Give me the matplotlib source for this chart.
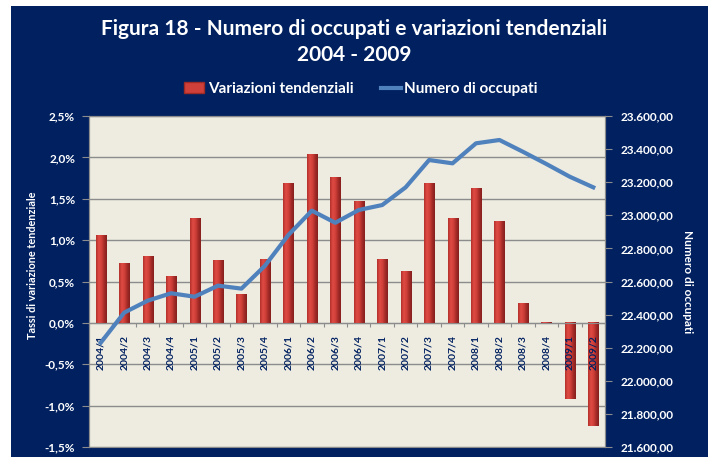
import matplotlib
matplotlib.use("Agg")
import matplotlib.pyplot as plt
from matplotlib.patches import Rectangle, Patch
from matplotlib.lines import Line2D
from matplotlib.colors import LinearSegmentedColormap
from matplotlib.ticker import FuncFormatter, MultipleLocator, FixedLocator
import numpy as np

plt.rcParams['font.family'] = ['Lato', 'DejaVu Sans']
plt.rcParams['font.weight'] = 'bold'
plt.rcParams['axes.labelweight'] = 'bold'

# data
periodi = ["2004/1", "2004/2", "2004/3", "2004/4", "2005/1", "2005/2", "2005/3", "2005/4",
           "2006/1", "2006/2", "2006/3", "2006/4", "2007/1", "2007/2", "2007/3", "2007/4",
           "2008/1", "2008/2", "2008/3", "2008/4", "2009/1", "2009/2"]
variazioni = [1.06, 0.72, 0.80, 0.56, 1.26, 0.75, 0.34, 0.77,
              1.68, 2.04, 1.76, 1.47, 0.77, 0.62, 1.68, 1.26,
              1.63, 1.23, 0.23, 0.01, -0.92, -1.25]
occupati = [22230, 22412, 22484, 22529, 22508, 22575, 22557, 22695,
            22881, 23028, 22955, 23032, 23062, 23169, 23334, 23314,
            23435, 23455, 23384, 23310, 23233, 23169]

navy = "#002060"
beige = "#EEECE1"
grigio = "#8C8C8C"
blu = "#4F81BD"

W, H = 713, 457
fig = plt.figure(figsize=(W / 100, H / 100), dpi=100, facecolor="white")
fig.patches.append(Rectangle((11 / W, 0), 697 / W, 1 - 6 / H, transform=fig.transFigure,
                             facecolor=navy, edgecolor="none", zorder=-10))

ax = fig.add_axes([89 / W, 1 - 447 / H, 516 / W, 331 / H])
ax.set_facecolor(beige)
ax.set_axisbelow(True)

x = np.arange(len(periodi))
bars = ax.bar(x, variazioni, width=0.43, color="none", edgecolor="none", zorder=2)
# cylinder-like shading of the bars
cmap = LinearSegmentedColormap.from_list("cyl", ["#B3302B", "#DF4A44", "#D2403A", "#A52B27", "#86201D"])
grad = np.linspace(0, 1, 64).reshape(1, -1)
for b in bars:
    x0, y0, w, h = b.get_x(), b.get_y(), b.get_width(), b.get_height()
    ax.imshow(grad, cmap=cmap, extent=[x0, x0 + w, y0, y0 + h], aspect="auto",
              zorder=2, interpolation="bilinear")

ax.set_xlim(-0.5, len(periodi) - 0.5)
ax.set_ylim(-1.5, 2.5)
ax.yaxis.set_major_locator(MultipleLocator(0.5))
ax.yaxis.set_major_formatter(FuncFormatter(lambda v, p: f"{v:.1f}%".replace(".", ",")))
ax.grid(axis="y", color=grigio, linewidth=1)
ax.tick_params(axis="y", colors=grigio, labelcolor="white", labelsize=8.5, length=5, pad=5)

# category axis at zero
ax.spines["bottom"].set_position(("data", 0))
ax.xaxis.set_major_locator(FixedLocator(np.arange(len(periodi) + 1) - 0.5))
ax.tick_params(axis="x", colors=grigio, length=3, labelbottom=False)
for s in ax.spines.values():
    s.set_color(grigio)
for i, p in enumerate(periodi):
    ax.annotate(p, (i, 0), xytext=(0, -9), textcoords="offset points", rotation=90,
                ha="center", va="top", fontsize=7.5, color=navy, zorder=5)

ax.set_ylabel("Tassi di variazione tendenziale", color="white", fontsize=7.8)
ax.yaxis.set_label_coords(-0.099, 0.55)

ax2 = ax.twinx()
ax2.plot(x, occupati, color=blu, linewidth=3, solid_joinstyle="round", zorder=3)
ax2.set_ylim(21600, 23600)
ax2.yaxis.set_major_locator(MultipleLocator(200))
ax2.yaxis.set_major_formatter(FuncFormatter(
    lambda v, p: f"{v:,.2f}".replace(",", "X").replace(".", ",").replace("X", ".")))
ax2.tick_params(axis="y", colors=grigio, labelcolor="white", labelsize=8.5, length=5, pad=6)
for s in ax2.spines.values():
    s.set_color(grigio)
ax2.set_ylabel("Numero di occupati", color="white", fontsize=8.5, rotation=270, labelpad=14)

fig.suptitle("Figura 18 - Numero di occupati e variazioni tendenziali\n2004 - 2009",
             x=354 / W, y=1 - 42 / H, va="center", color="white", fontsize=15,
             fontweight="bold", linespacing=1.35)

handles = [Patch(facecolor="#D0403A", edgecolor="#9E2A25"),
           Line2D([], [], color=blu, linewidth=3)]
fig.legend(handles, ["Variazioni tendenziali", "Numero di occupati"], ncol=2,
           loc="center", bbox_to_anchor=(361 / W, 1 - 89 / H), frameon=False,
           labelcolor="white", fontsize=11, handlelength=1.3, handletextpad=0.25,
           columnspacing=1.8)

fig.savefig("out.png", dpi=100, facecolor="white")
